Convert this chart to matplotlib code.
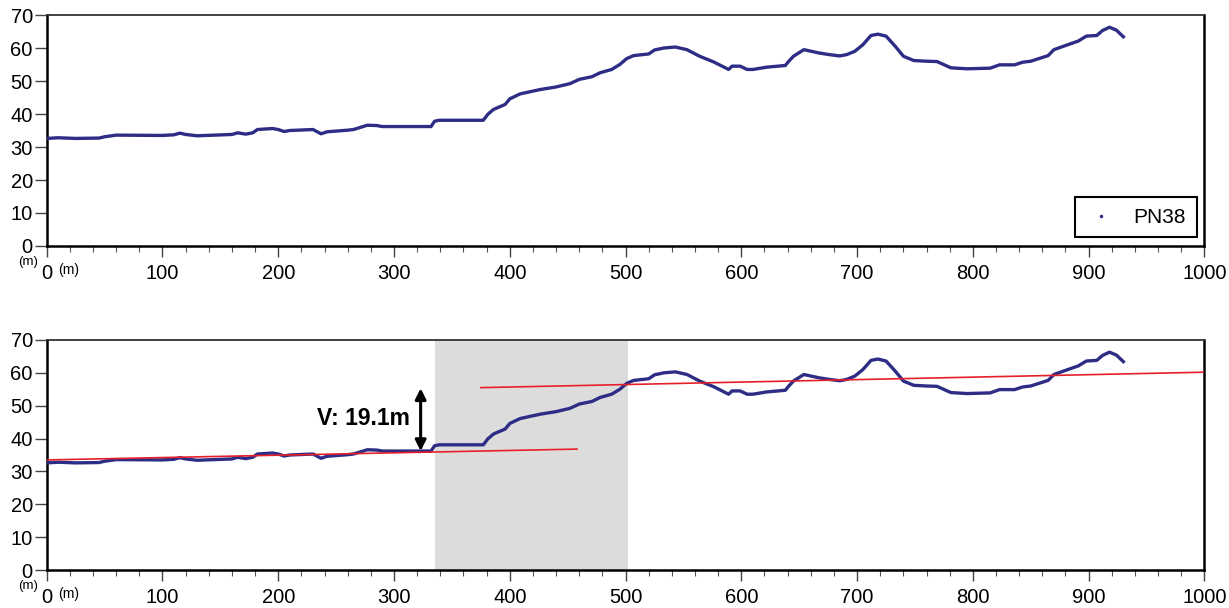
import matplotlib.pyplot as plt
from matplotlib.lines import Line2D
from matplotlib.ticker import MultipleLocator

plt.rcParams['font.family'] = ['Liberation Sans', 'DejaVu Sans']

# profile PN38: distance along profile (m) and elevation (m)
distance = [0, 10, 25, 45, 50, 60, 100, 110, 115, 120, 130, 160, 165, 172, 178, 182,
            195, 200, 205, 210, 230, 237, 242, 260, 265, 277, 285, 290, 300, 332, 335,
            339, 377, 378, 381, 386, 396, 400, 409, 426, 440, 452, 460, 471, 478, 488,
            495, 501, 507, 520, 525, 533, 543, 553, 564, 576, 589, 592, 599, 605, 610,
            622, 638, 641, 645, 654, 667, 676, 685, 691, 698, 705, 712, 718, 725, 733,
            740, 749, 760, 769, 781, 795, 815, 823, 836, 843, 850, 865, 870, 882, 891,
            898, 907, 912, 918, 924, 930]
elevation = [32.6, 32.8, 32.6, 32.7, 33.1, 33.6, 33.5, 33.7, 34.2, 33.8, 33.4, 33.8, 34.3,
             33.9, 34.3, 35.3, 35.6, 35.3, 34.7, 35.0, 35.3, 34.0, 34.6, 35.1, 35.3, 36.6,
             36.5, 36.2, 36.2, 36.2, 37.8, 38.1, 38.1, 38.5, 39.9, 41.4, 42.9, 44.6, 46.1,
             47.4, 48.2, 49.2, 50.5, 51.3, 52.5, 53.5, 55.0, 56.8, 57.7, 58.2, 59.4, 60.0,
             60.3, 59.5, 57.5, 55.8, 53.5, 54.5, 54.5, 53.5, 53.5, 54.2, 54.7, 56.0, 57.5,
             59.5, 58.5, 58.0, 57.6, 58.0, 59.0, 61.0, 63.8, 64.2, 63.6, 60.5, 57.5, 56.2,
             56.0, 55.9, 54.0, 53.7, 53.9, 54.9, 54.9, 55.7, 56.0, 57.7, 59.5, 61.0, 62.1,
             63.6, 63.8, 65.3, 66.3, 65.4, 63.4]

# fitted surfaces (start/end x, start/end y)
lower_fit_x = [0, 458]
lower_fit_y = [33.5, 36.8]
upper_fit_x = [375, 1000]
upper_fit_y = [55.5, 60.2]

scarp_zone = [335, 502]
offset_x = 323
offset_base = 36.2
offset_v = 19.1

line_color = '#2d2d86'


def style_axes(ax):
    ax.set_xlim(0, 1000)
    ax.set_ylim(0, 70)
    ax.xaxis.set_major_locator(MultipleLocator(100))
    ax.xaxis.set_minor_locator(MultipleLocator(20))
    ax.yaxis.set_major_locator(MultipleLocator(10))
    ax.tick_params(axis='x', which='major', length=8, width=1, color='#444444',
                   pad=5, labelsize=14.5)
    ax.tick_params(axis='x', which='minor', length=4, width=0.8, color='#555555')
    ax.tick_params(axis='y', which='major', length=8.5, width=1, color='#444444',
                   pad=1.5, labelsize=14.5)
    for side in ['left', 'bottom', 'right']:
        ax.spines[side].set_linewidth(1.8)
    ax.spines['top'].set_linewidth(1.3)
    ax.spines['top'].set_color('#333333')
    ax.text(-0.025, -0.045, '(m)', transform=ax.transAxes, fontsize=9.5,
            ha='left', va='top')
    ax.text(0.0098, -0.075, '(m)', transform=ax.transAxes, fontsize=10,
            ha='left', va='top')


def draw_profile(ax):
    ax.plot(distance, elevation, color=line_color, lw=2.4, zorder=3)


fig = plt.figure(figsize=(12.29, 6.08), dpi=100)
ax1 = fig.add_axes([0.038, 0.5954, 0.942, 0.3799])
ax2 = fig.add_axes([0.038, 0.0625, 0.942, 0.3783])

draw_profile(ax1)
style_axes(ax1)
handle = Line2D([], [], color=line_color, marker='.', ms=3, ls='none')
leg = ax1.legend([handle], ['PN38'], loc='lower right',
                 bbox_to_anchor=(0.9933, 0.0377), borderaxespad=0, fontsize=15,
                 fancybox=False, framealpha=1, edgecolor='black',
                 handlelength=1.5, borderpad=0.5, handletextpad=0.8)
leg.get_frame().set_linewidth(1.5)

ax2.axvspan(scarp_zone[0], scarp_zone[1], color='#dcdcdc', lw=0, zorder=0)
draw_profile(ax2)
ax2.plot(lower_fit_x, lower_fit_y, color='#e5202a', lw=1.2, zorder=4)
ax2.plot(upper_fit_x, upper_fit_y, color='#e5202a', lw=1.2, zorder=4)
ax2.annotate('', xy=(offset_x, offset_base + offset_v), xytext=(offset_x, offset_base),
             arrowprops=dict(arrowstyle='<|-|>', color='black', lw=2.2,
                             mutation_scale=16, shrinkA=0, shrinkB=0))
ax2.text(314, 46, 'V: 19.1m', fontsize=16.5, fontweight='bold', ha='right', va='center')
style_axes(ax2)

fig.savefig('out.png', dpi=100)
